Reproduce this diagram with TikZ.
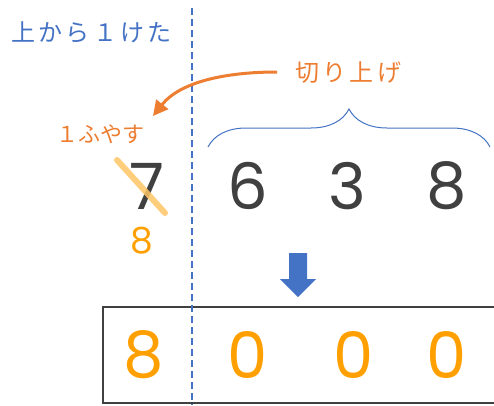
\documentclass[tikz,border=0pt]{standalone}
\usepackage{fontspec}
\usetikzlibrary{arrows.meta,decorations.pathreplacing}
\newfontfamily\jpfont[LetterSpace=14]{Noto Sans CJK JP}
\newfontfamily\jpfonttight{Noto Sans CJK JP}
\newfontfamily\digfont{Poppins}
\definecolor{myblue}{HTML}{4472C4}
\definecolor{myorange}{HTML}{ED7D31}
\definecolor{mygold}{HTML}{FFA000}
\definecolor{mygray}{HTML}{404040}
\begin{document}
\begin{tikzpicture}[x=1pt,y=-1pt,
  bigdig/.style={font=\digfont\fontsize{64}{64}\selectfont, text=mygray, inner sep=0pt},
  resdig/.style={font=\digfont\fontsize{64}{64}\selectfont, text=mygold, inner sep=0pt},
  jp/.style={font=\jpfont\fontsize{24}{24}\selectfont, inner sep=0pt}]
\useasboundingbox (0,0) rectangle (494,405);
% result box
\draw[mygray, line width=2.5pt] (103,307) rectangle (510,403);
% dashed line
\draw[myblue, line width=1.5pt, dash pattern=on 7pt off 4pt] (192,8) -- (192,405);
% labels
\node[jp, text=myblue, anchor=west] (top) at (11,32) {上から１けた};
\node[jp, text=myorange, anchor=west] (kiri) at (295,73) {切り上げ};
\node[jp, font=\jpfonttight\fontsize{22}{22}\selectfont, text=myorange, anchor=west] (fuyasu) at (56,134) {１ふやす};
% digits
\node[bigdig] (d7) at (147,186) {7};
\node[bigdig] (d6) at (248,186) {6};
\node[bigdig] (d3) at (347,186) {3};
\node[bigdig] (d8) at (447,186) {8};
\node[font=\digfont\fontsize{36}{36}\selectfont, text=mygold, inner sep=0pt] (n8) at (142,241) {8};
\draw[mygold!60, line width=6pt, line cap=round, opacity=0.85] (117,160) -- (165,213);
% result digits
\node[resdig] (r8) at (144,355) {8};
\node[resdig] (r0a) at (248,355) {0};
\node[resdig] (r0b) at (354,355) {0};
\node[resdig] (r0c) at (447,355) {0};
% brace
\draw[myblue, line width=1pt, decorate, decoration={brace, amplitude=38pt, aspect=0.5}] (208,147) -- (490,147);
% orange arrow
\coordinate (astart) at (277,72);
\draw[myorange, line width=3pt, -{Triangle[length=15pt,width=15pt]}] (astart) .. controls (225,72) and (180,82) .. (153,116);
% blue down arrow
\fill[myblue] (289,253) -- (307,253) -- (307,279) -- (316,279) -- (298,297) -- (280,279) -- (289,279) -- cycle;
\end{tikzpicture}
\end{document}
